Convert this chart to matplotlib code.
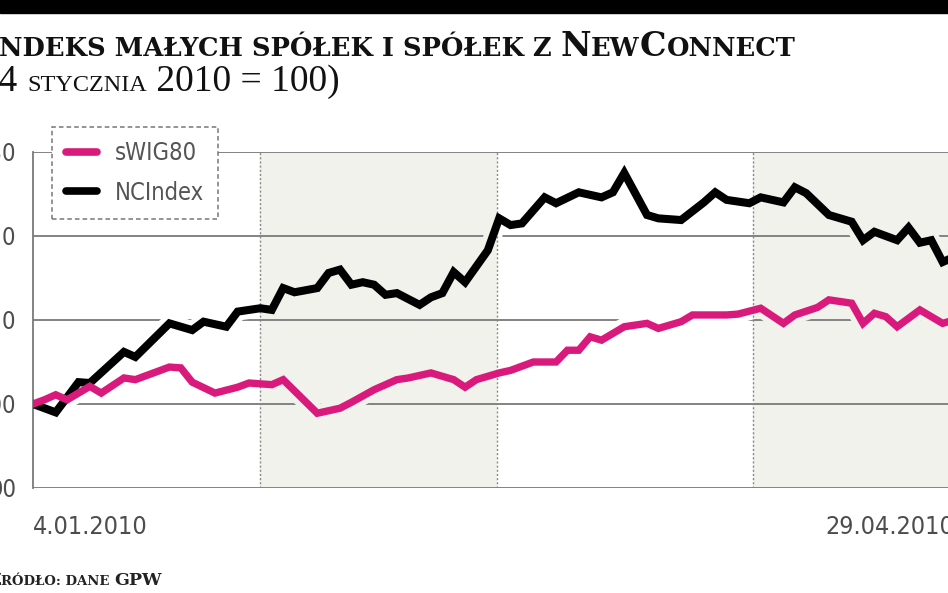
import matplotlib
matplotlib.use('Agg')
import matplotlib.pyplot as plt
from matplotlib import font_manager
from matplotlib.font_manager import FontProperties
from matplotlib.lines import Line2D
from matplotlib.patches import Rectangle

# trading-day index (0 = 4.01.2010, 81 = 29.04.2010) and index values
swig_x = [0, 1, 2, 3, 5, 6, 8, 9, 12, 13, 14, 16, 18, 19, 21, 22, 25, 27, 28, 30,
          32, 33, 35, 37, 38, 39, 41, 42, 44, 46, 47, 48, 49, 50, 52, 54, 55, 57, 58,
          61, 62, 64, 66, 67, 69, 70, 72, 73, 74, 75, 76, 78, 79, 80, 81]
swig_y = [100.0, 100.5, 101.1, 100.5, 102.1, 101.3, 103.1, 102.9, 104.4, 104.3, 102.6,
          101.3, 102.0, 102.5, 102.3, 102.9, 98.9, 99.5, 100.2, 101.7, 102.9, 103.1,
          103.7, 102.9, 102.0, 102.9, 103.7, 104.0, 105.0, 105.0, 106.4, 106.4, 108.0,
          107.6, 109.2, 109.6, 109.0, 109.8, 110.6, 110.6, 110.7, 111.4, 109.6, 110.6,
          111.5, 112.4, 112.0, 109.6, 110.8, 110.4, 109.2, 111.2, 110.4, 109.6, 110.0]

nc_x = [0, 2, 4, 5, 8, 9, 12, 14, 15, 17, 18, 20, 21, 22, 23, 25, 26, 27, 28, 29, 30,
        31, 32, 34, 35, 36, 37, 38, 40, 41, 42, 43, 45, 46, 48, 50, 51, 52, 54, 55, 57,
        59, 60, 61, 63, 64, 66, 67, 68, 70, 72, 73, 74, 76, 77, 78, 79, 80, 81]
nc_y = [100.0, 99.0, 102.6, 102.5, 106.2, 105.6, 109.6, 108.8, 109.8, 109.2, 111.0,
        111.4, 111.2, 113.8, 113.3, 113.8, 115.6, 116.0, 114.2, 114.5, 114.2, 113.0,
        113.2, 111.8, 112.7, 113.2, 115.7, 114.5, 118.3, 122.1, 121.3, 121.5, 124.6,
        123.9, 125.2, 124.6, 125.2, 127.5, 122.5, 122.1, 121.9, 124.0, 125.2, 124.3,
        123.9, 124.6, 124.0, 125.8, 125.1, 122.5, 121.7, 119.5, 120.5, 119.5, 121.0,
        119.2, 119.5, 116.9, 117.5]

month_edges = [0, 20, 40.8, 63.3, 81]
y_ticks = [90, 100, 110, 120, 130]
date_labels = ['4.01.2010', '29.04.2010']

PINK = '#d91a7c'
SHADE = '#f2f2ec'
GRID = '#7a7a7a'
TXT = '#4d4d4d'

# pick the narrowest sans that is installed
names = {f.name for f in font_manager.fontManager.ttflist}
narrow = dict(family=['Roboto', 'DejaVu Sans'], weight='light')
if 'Liberation Sans Narrow' in names:
    narrow = dict(family=['Liberation Sans Narrow', 'DejaVu Sans'])
else:
    p = font_manager.findfont(FontProperties(family='DejaVu Sans', stretch='condensed'))
    if 'Condensed' in p:
        narrow = dict(family=['DejaVu Sans'], stretch='condensed')
    elif 'Roboto' not in names:
        narrow = dict(family=['DejaVu Sans'])
SERIF = 'DejaVu Serif'

W, H = 948, 593
fig = plt.figure(figsize=(W / 100, H / 100), dpi=100)
ax = fig.add_axes([33 / W, 1 - 488 / H, 921 / W, 336 / H])
ax.set_xlim(month_edges[0], month_edges[-1])
ax.set_ylim(y_ticks[0], y_ticks[-1])

# alternating month bands
bands = []
for k in range(len(month_edges) - 1):
    col = 'white' if k % 2 == 0 else SHADE
    bands.append((month_edges[k], month_edges[k + 1], col))
    if col != 'white':
        ax.axvspan(month_edges[k], month_edges[k + 1], color=col, zorder=0, lw=0)

ax.set_yticks(y_ticks)
ax.yaxis.grid(True, color=GRID, lw=1.3)
ax.set_axisbelow(True)
ax.set_xticks([])
ax.tick_params(axis='y', length=0, pad=12, labelsize=17, labelcolor=TXT)
for lab in ax.get_yticklabels():
    lab.update(narrow)
for s in ['top', 'right', 'bottom']:
    ax.spines[s].set_visible(False)
ax.spines['left'].set_color(GRID)
ax.spines['left'].set_linewidth(1.3)

# background-coloured halo so the gridlines break around the lines
for x0, x1, col in bands:
    for xs, ys in [(swig_x, swig_y), (nc_x, nc_y)]:
        ln, = ax.plot(xs, ys, color=col, lw=13, zorder=2, solid_capstyle='round')
        ln.set_clip_path(Rectangle((x0, y_ticks[0]), x1 - x0, y_ticks[-1] - y_ticks[0],
                                   transform=ax.transData))

for edge in month_edges[1:-1]:
    ax.axvline(edge, color='#888888', lw=1.0, ls=(0, (1.5, 1.5)), zorder=2.5)

ax.plot(nc_x, nc_y, color='black', lw=5.8, zorder=3, solid_joinstyle='miter')
ax.plot(swig_x, swig_y, color=PINK, lw=5.3, zorder=4, solid_joinstyle='miter')

handles = [Line2D([], [], color=PINK, lw=5.5, solid_capstyle='round'),
           Line2D([], [], color='black', lw=5.5, solid_capstyle='round')]
leg = ax.legend(handles, ['sWIG80', 'NCIndex'], loc='upper left',
                bbox_to_anchor=(19 / 921, (488 - 127) / 336), borderaxespad=0,
                handlelength=1.3, handletextpad=0.75, labelspacing=0.65, borderpad=0.6,
                fancybox=False, framealpha=1, edgecolor='#777777',
                prop=FontProperties(size=17, **narrow))
leg.get_frame().set_linestyle((0, (3, 2)))
leg.get_frame().set_linewidth(1.1)
for t in leg.get_texts():
    t.set_color('#555555')

ax.text(0, -0.116, date_labels[0], transform=ax.transAxes, ha='left', va='center',
        fontsize=18, color=TXT, **narrow)
ax.text(1, -0.116, date_labels[1], transform=ax.transAxes, ha='right', va='center',
        fontsize=18, color=TXT, **narrow)

# black bar along the top
fig.patches.append(Rectangle((0, 1 - 13 / H), 1, 13 / H, transform=fig.transFigure,
                             color='black', zorder=0))

renderer = fig.canvas.get_renderer()


def small_caps(runs, x_px, y_px, **kw):
    # draw a row of (text, size) pieces, left to right on one baseline
    x = x_px
    for txt, size in runs:
        t = fig.text(x / W, 1 - y_px / H, txt, fontsize=size, ha='left', va='baseline', **kw)
        x += t.get_window_extent(renderer).width
    return x


def width_of(txt, size, **kw):
    t = fig.text(0, 0, txt, fontsize=size, **kw)
    w = t.get_window_extent(renderer).width
    t.remove()
    return w


tkw = dict(family=SERIF, weight='bold', color='#111111')
big, sm = 24, 18.5
small_caps([('I', big), ('NDEKS MAŁYCH SPÓŁEK I SPÓŁEK Z ', sm), ('N', big), ('EW', sm),
            ('C', big), ('ONNECT', sm)], -width_of('I', big, **tkw) - 1, 56, **tkw)

skw = dict(family='Liberation Serif', color='#111111')
small_caps([('(4 ', 27), ('STYCZNIA', 17.5), (' 2010 = 100)', 27)],
           -width_of('(', 27, **skw) - 1, 91, **skw)

ckw = dict(family=SERIF, weight='bold', color='#222222')
small_caps([('Ź', 12.5), ('RÓDŁO: DANE ', 9.5), ('GPW', 12.5)],
           -width_of('Ź', 12.5, **ckw) + 1, 585, **ckw)

fig.savefig('out.png', dpi=100, facecolor='white')
